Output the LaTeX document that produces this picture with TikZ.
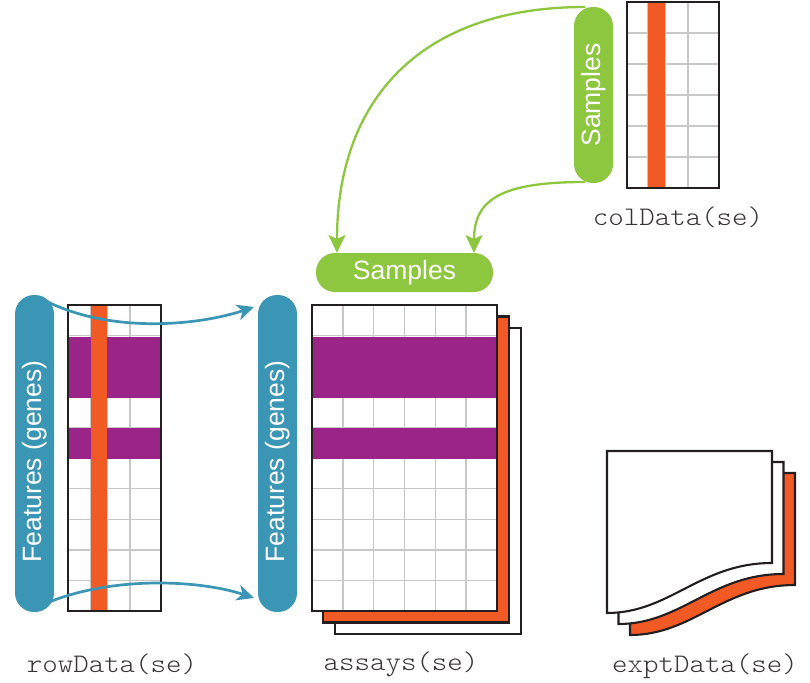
\documentclass[tikz,border=0pt]{standalone}
\usepackage{fontspec}
\setmainfont{Liberation Sans}
\newfontfamily\codefont{lmmonolt10-regular.otf}[FakeStretch=1.1]
\usetikzlibrary{arrows.meta}
\definecolor{cOrange}{HTML}{F15A24}
\definecolor{cPurple}{HTML}{9B2489}
\definecolor{cBlue}{HTML}{3A96B4}
\definecolor{cGreen}{HTML}{8DC63F}
\definecolor{cGrid}{HTML}{C8C8C8}
\definecolor{cLine}{HTML}{231F20}
\begin{document}
\begin{tikzpicture}[x=1pt,y=-1pt,
 pill/.style={rectangle, rounded corners=19pt, minimum height=39pt, inner sep=0pt, text=white, font=\fontsize{26.5}{30}\selectfont},
 bluepill/.style={pill, fill=cBlue},
 greenpill/.style={pill, fill=cGreen},
 gridline/.style={draw=cGrid, line width=1.4pt},
 frame/.style={draw=cLine, line width=2.3pt},
 matframe/.style={frame, rectangle, inner sep=0pt},
 sheet/.style={draw=cLine, line width=2.1pt},
 codelabel/.style={font=\codefont\fontsize{26.8}{30}\selectfont, text=cLine!90},
 bluearrow/.style={draw=cBlue, line width=2.7pt, -{Stealth[length=17pt,width=16pt,inset=5pt]}},
 greenarrow/.style={draw=cGreen, line width=2.3pt, -{Stealth[length=18pt,width=17pt,inset=4pt]}},
]
\useasboundingbox (0,0) rectangle (810,682);

% ---------- green arrows (behind the vertical pill)
\coordinate (gA) at (585,7);
\coordinate (gB) at (585,182);
\coordinate (gAend) at (337,253);
\coordinate (gBend) at (474,253);
\draw[greenarrow] (gA) .. controls (420,7) and (337,100) .. (gAend);
\draw[greenarrow] (gB) .. controls (500,182) and (474,200) .. (gBend);

% ---------- vertical green pill and colData
\node[greenpill, rotate=90, minimum width=176pt] (sampV) at (593.5,95) {Samples};
\fill[white] (627,2) rectangle (719,188);
\foreach \k in {1,...,5} \draw[gridline] (627,{2+31*\k}) -- (719,{2+31*\k});
\foreach \xx in {648,665,688} \draw[gridline] (\xx,2) -- (\xx,188);
\fill[cOrange] (648,2) rectangle (665,188);
\node[matframe, minimum width=92pt, minimum height=186pt] (colmat) at (673,95) {};
\node[codelabel] (collab) at (678,217) {colData(se)};

% ---------- horizontal green pill
\node[greenpill, minimum width=177pt] (sampH) at (404.5,272.5) {Samples};

% ---------- rowData
\node[bluepill, rotate=90, minimum width=317pt] (featL) at (34.5,453.5) {Features (genes)\hspace*{16pt}};
\foreach \k in {1,...,9} \draw[gridline] (68,{305+30.6*\k}) -- (161,{305+30.6*\k});
\foreach \xx in {91,107,130} \draw[gridline] (\xx,305) -- (\xx,611);
\fill[cPurple] (68,336.6) rectangle (161,397.8);
\fill[cPurple] (68,428.4) rectangle (161,459.4);
\fill[cOrange] (91,305) rectangle (107,611);
\node[matframe, minimum width=93pt, minimum height=306pt] (rowmat) at (114.5,458) {};
\node[codelabel] (rowlab) at (112,664) {rowData(se)};

% ---------- assays
\node[bluepill, rotate=90, minimum width=317pt] (featR) at (277.5,453.5) {Features (genes)\hspace*{16pt}};
\node[sheet, fill=white, minimum width=185.5pt, minimum height=306pt, inner sep=0pt] (sheet3) at (428,481) {};
\node[sheet, fill=cOrange, minimum width=185.5pt, minimum height=306pt, inner sep=0pt] (sheet2) at (416,469.5) {};
\fill[white] (312,305) rectangle (497,611);
\foreach \k in {1,...,9} \draw[gridline] (312,{305+30.6*\k}) -- (497,{305+30.6*\k});
\foreach \k in {1,...,5} \draw[gridline] ({312+30.83*\k},305) -- ({312+30.83*\k},611);
\fill[cPurple] (312,336.6) rectangle (497,397.8);
\fill[cPurple] (312,428.4) rectangle (497,459.4);
\node[matframe, minimum width=185pt, minimum height=306pt] (assaymat) at (404.5,458) {};
\node[codelabel] (assaylab) at (401,664) {assays(se)};

% ---------- exptData
\foreach \dx/\dy/\col in {23/22/cOrange, 11.5/11/white, 0/0/white}
  \draw[sheet, fill=\col, shift={(\dx,\dy)}]
    (607,451) -- (772,451) -- (772,563)
    .. controls (700,563) and (670,613) .. (607,613) -- cycle;
\node[codelabel] (exptlab) at (705,666) {exptData(se)};

% ---------- blue arrows
\coordinate (bA) at (42,299);
\coordinate (bB) at (42,605);
\coordinate (bAend) at (254,307);
\coordinate (bBend) at (254,598);
\draw[bluearrow] (bA) .. controls (110,335) and (200,325) .. (bAend);
\draw[bluearrow] (bB) .. controls (110,575) and (200,580) .. (bBend);
\end{tikzpicture}
\end{document}
